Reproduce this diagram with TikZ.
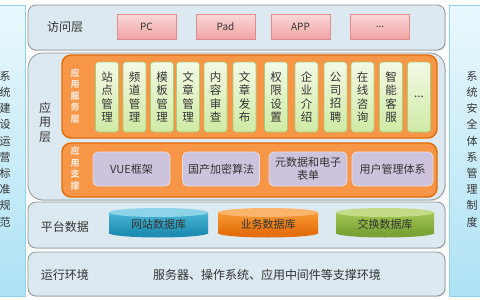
\documentclass[tikz,border=0pt]{standalone}
\usepackage{fontspec}
\setmainfont{Noto Sans CJK SC}
\usetikzlibrary{shadows}
\definecolor{lyrfill}{HTML}{DCE9F0}
\definecolor{lyrline}{HTML}{8A979D}
\definecolor{colline}{HTML}{8FD3EE}
\definecolor{coltop}{HTML}{EAF8FD}
\definecolor{colbot}{HTML}{AEE2F5}
\definecolor{orfill}{HTML}{F79646}
\definecolor{orline}{HTML}{E36C09}
\definecolor{ortext}{HTML}{FDE5D5}
\definecolor{grtop}{HTML}{F3FAE6}
\definecolor{grbot}{HTML}{CFEAA4}
\definecolor{grline}{HTML}{A7CD78}
\definecolor{pufill}{HTML}{CDC3DC}
\definecolor{puline}{HTML}{E4DDEC}
\definecolor{pktop}{HTML}{FBD8D8}
\definecolor{pkbot}{HTML}{F0A4A4}
\definecolor{pkline}{HTML}{E08C8C}
\definecolor{txt}{HTML}{333333}
\definecolor{blbodyt}{HTML}{4BB6D6}
\definecolor{blbodyb}{HTML}{1E8DB1}
\definecolor{bltop}{HTML}{8ED4E9}
\definecolor{orbodyt}{HTML}{F99A33}
\definecolor{orbodyb}{HTML}{E46E0C}
\definecolor{ortop}{HTML}{FAB46C}
\definecolor{gnbodyt}{HTML}{A2C752}
\definecolor{gnbodyb}{HTML}{7AA236}
\definecolor{gntop}{HTML}{C4DC88}
\newcommand\mydb[8]{%
  \fill[#5] ({(#2+#3)/2},233) ellipse [x radius={(#3-#2)/2}, y radius=4.5];
  \shade[top color=#4, bottom color=#5] (#2,212.5) rectangle (#3,233);
  \fill[#6] ({(#2+#3)/2},212.5) ellipse [x radius={(#3-#2)/2}, y radius=4.5];
  \node[font=\fontsize{11}{12}\selectfont, text=#8] (#1) at ({(#2+#3)/2},224) {#7};
}
\begin{document}
\begin{tikzpicture}[x=1pt,y=-1pt,
  every node/.style={inner sep=0pt, outer sep=0pt, text=txt},
  lyr/.style={draw=lyrline, line width=0.8pt, fill=lyrfill, rounded corners=8pt,
     drop shadow={shadow xshift=0.8pt, shadow yshift=-1pt, opacity=0.25}},
  colbox/.style={draw=colline, line width=0.8pt, top color=coltop, bottom color=colbot},
  orbox/.style={draw=orline, line width=1.4pt, fill=orfill, rounded corners=9pt},
  grbox/.style={draw=grline, line width=0.6pt, top color=grtop, bottom color=grbot, rounded corners=3pt,
     minimum width=23pt, minimum height=70pt, align=center,
     font=\fontsize{11.5}{13.3}\selectfont},
  pubox/.style={draw=puline, line width=0.8pt, fill=pufill, rounded corners=5pt,
     minimum height=34pt, align=center, font=\fontsize{11}{13}\selectfont},
  pkbox/.style={draw=pkline, line width=0.6pt, top color=pktop, bottom color=pkbot,
     minimum width=59pt, minimum height=25pt, font=\fontsize{10}{12}\selectfont},
  lbl/.style={font=\fontsize{12}{14}\selectfont},
  orlbl/.style={text=ortext, font=\bfseries\fontsize{9}{11.5}\selectfont, align=center},
]
\useasboundingbox (0,0) rectangle (480,300);
% side columns
\path[colbox] (-10,5) rectangle (25,296);
\path[colbox] (449,5) rectangle (490,296);
\node[align=center, font=\fontsize{11}{16.2}\selectfont] (lside) at (5,149) {系\\统\\建\\设\\运\\营\\标\\准\\规\\范};
\node[align=center, font=\fontsize{11}{16.2}\selectfont] (rside) at (472,149) {系\\统\\安\\全\\体\\系\\管\\理\\制\\度};
% layers
\node[lyr, anchor=north west, minimum width=417pt, minimum height=45pt] (acc) at (28,5) {};
\node[lyr, anchor=north west, minimum width=417pt, minimum height=147pt, rounded corners=15pt] (app) at (28,53) {};
\node[lyr, anchor=north west, minimum width=417pt, minimum height=46pt] (plat) at (28,202) {};
\node[lyr, anchor=north west, minimum width=417pt, minimum height=44pt] (run) at (28,252) {};
% access layer
\node[lbl] (acct) at (65,27) {访问层};
\node[pkbox] (pc) at (146.5,26.5) {PC};
\node[pkbox] (pad) at (225.5,26.5) {Pad};
\node[pkbox] (appc) at (300.5,26.5) {APP};
\node[pkbox] (more1) at (380,26.5) {...};
% application layer
\node[lbl, align=center, font=\fontsize{12}{14.5}\selectfont] (appt) at (45,122) {应\\用\\层};
\node[orbox, anchor=north west, minimum width=375pt, minimum height=83pt] (svc) at (62,55) {};
\node[orbox, anchor=north west, minimum width=375pt, minimum height=54pt] (sup) at (62,143) {};
\node[orlbl] (svct) at (75,96) {应\\用\\服\\务\\层};
\node[orlbl] (supt) at (75,168.5) {应\\用\\支\\撑};
\node[grbox] (g1) at (107,97) {站\\点\\管\\理};
\node[grbox] (g2) at (134.5,97) {频\\道\\管\\理};
\node[grbox] (g3) at (162,97) {模\\板\\管\\理};
\node[grbox] (g4) at (188,97) {文\\章\\管\\理};
\node[grbox] (g5) at (215.5,97) {内\\容\\审\\查};
\node[grbox] (g6) at (244.5,97) {文\\章\\发\\布};
\node[grbox] (g7) at (276,97) {权\\限\\设\\置};
\node[grbox] (g8) at (306.5,97) {企\\业\\介\\绍};
\node[grbox] (g9) at (335.5,97) {公\\司\\招\\聘};
\node[grbox] (g10) at (362.5,97) {在\\线\\咨\\询};
\node[grbox] (g11) at (391,97) {智\\能\\客\\服};
\node[grbox] (g12) at (419,97) {...};
\node[pubox, minimum width=77pt] (p1) at (131.5,169) {VUE框架};
\node[pubox, minimum width=77pt] (p2) at (221,169) {国产加密算法};
\node[pubox, minimum width=78pt] (p3) at (308,169) {元数据和电子\\表单};
\node[pubox, minimum width=81pt] (p4) at (392.5,169) {用户管理体系};
% platform data
\node[lbl] (platt) at (65,227) {平台数据};
\mydb{db1}{109}{208}{blbodyt}{blbodyb}{bltop}{网站数据库}{txt}
\mydb{db2}{218}{318}{orbodyt}{orbodyb}{ortop}{业务数据库}{txt}
\mydb{db3}{336}{434}{gnbodyt}{gnbodyb}{gntop}{交换数据库}{txt}
% runtime
\node[lbl] (runt) at (65,275) {运行环境};
\node[lbl] (runenv) at (267,275) {服务器、操作系统、应用中间件等支撑环境};
\end{tikzpicture}
\end{document}
